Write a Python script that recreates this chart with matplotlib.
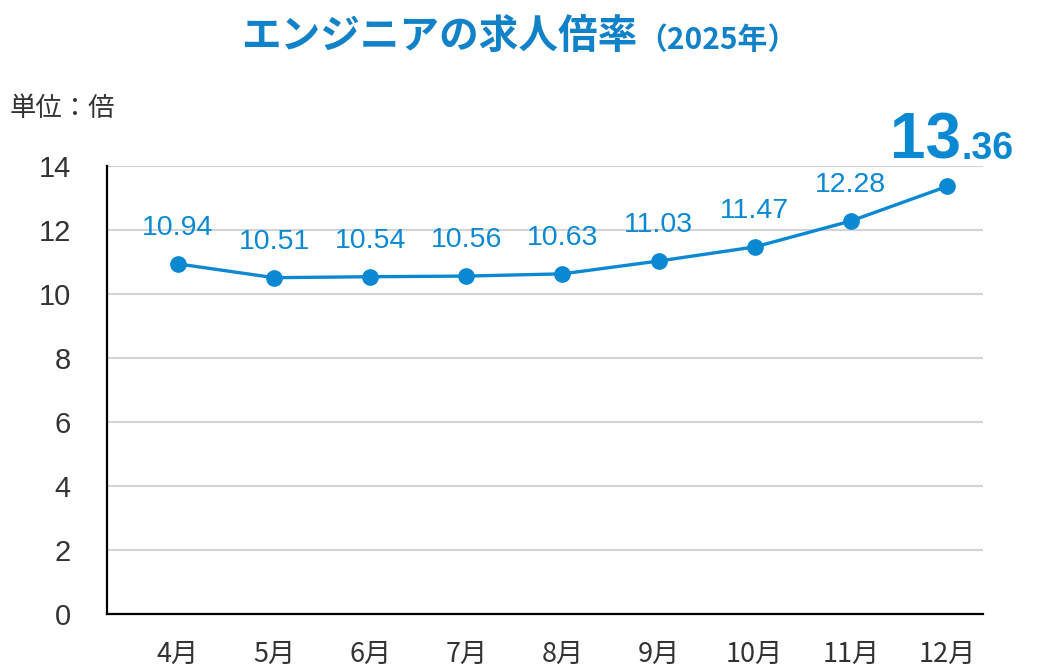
import matplotlib
matplotlib.use("Agg")
import matplotlib.pyplot as plt

months = ["4月", "5月", "6月", "7月", "8月", "9月", "10月", "11月", "12月"]
ratios = [10.94, 10.51, 10.54, 10.56, 10.63, 11.03, 11.47, 12.28, 13.36]
value_labels = ["10.94", "10.51", "10.54", "10.56", "10.63", "11.03", "11.47", "12.28"]
last_int, last_dec = "13", ".36"
yticks = [0, 2, 4, 6, 8, 10, 12, 14]

BLUE = "#0a88d2"
TITLE_BLUE = "#1282c8"
GRAY = "#333333"
NUM_FONT = ["Liberation Sans", "DejaVu Sans"]
CJK_FONT = ["Noto Sans CJK JP", "DejaVu Sans"]

fig = plt.figure(figsize=(10.4, 6.69), dpi=100)
ax = fig.add_axes([107/1040, 1-614/669, (983-107)/1040, (614-166)/669])

x = list(range(len(months)))
ax.plot(x, ratios, color=BLUE, lw=2.4, marker="o", ms=11, zorder=3, clip_on=False)

ax.set_ylim(0, 14)
ax.set_xlim(-0.739, 8.376)
ax.set_yticks(yticks)
ax.set_yticklabels([str(v) for v in yticks], fontfamily=NUM_FONT, fontsize=21, color=GRAY)
ax.set_xticks(x)
ax.set_xticklabels(months, fontfamily=CJK_FONT, fontsize=19.5, color=GRAY)
ax.tick_params(axis="both", length=0)
ax.tick_params(axis="y", pad=26)
ax.tick_params(axis="x", pad=19)
ax.grid(axis="y", color="#d4d4d4", lw=1.5, zorder=0)
ax.set_axisbelow(True)
for s in ["top", "right"]:
    ax.spines[s].set_visible(False)
for s in ["left", "bottom"]:
    ax.spines[s].set_color("black")
    ax.spines[s].set_linewidth(1.6)

for xi, yi, lab in zip(x[:-1], ratios[:-1], value_labels):
    ax.annotate(lab, (xi, yi), xytext=(0, 26), textcoords="offset points",
                ha="center", va="center", fontsize=20.5, color=BLUE,
                fontfamily=NUM_FONT)

# emphasized last label
ax.annotate(last_int, (x[-1], ratios[-1]), xytext=(10.5, 20), textcoords="offset points",
            ha="right", va="baseline", fontsize=46, fontweight="bold", color=BLUE,
            fontfamily=NUM_FONT, annotation_clip=False)
ax.annotate(last_dec, (x[-1], ratios[-1]), xytext=(10.5, 20), textcoords="offset points",
            ha="left", va="baseline", fontsize=27, fontweight="bold", color=BLUE,
            fontfamily=NUM_FONT, annotation_clip=False)

# title
fig.text(637/1040, 1-49/669, "エンジニアの求人倍率", ha="right", va="baseline",
         fontsize=28.5, fontweight="bold", color=TITLE_BLUE, fontfamily=CJK_FONT)
fig.text(637/1040, 1-49/669, "（2025年）", ha="left", va="baseline",
         fontsize=21.5, fontweight="bold", color=TITLE_BLUE, fontfamily=CJK_FONT)

fig.text(10/1040, 1-109/669, "単位：倍", ha="left", va="center",
         fontsize=19, color=GRAY, fontfamily=CJK_FONT)

fig.savefig("out.png", dpi=100)
